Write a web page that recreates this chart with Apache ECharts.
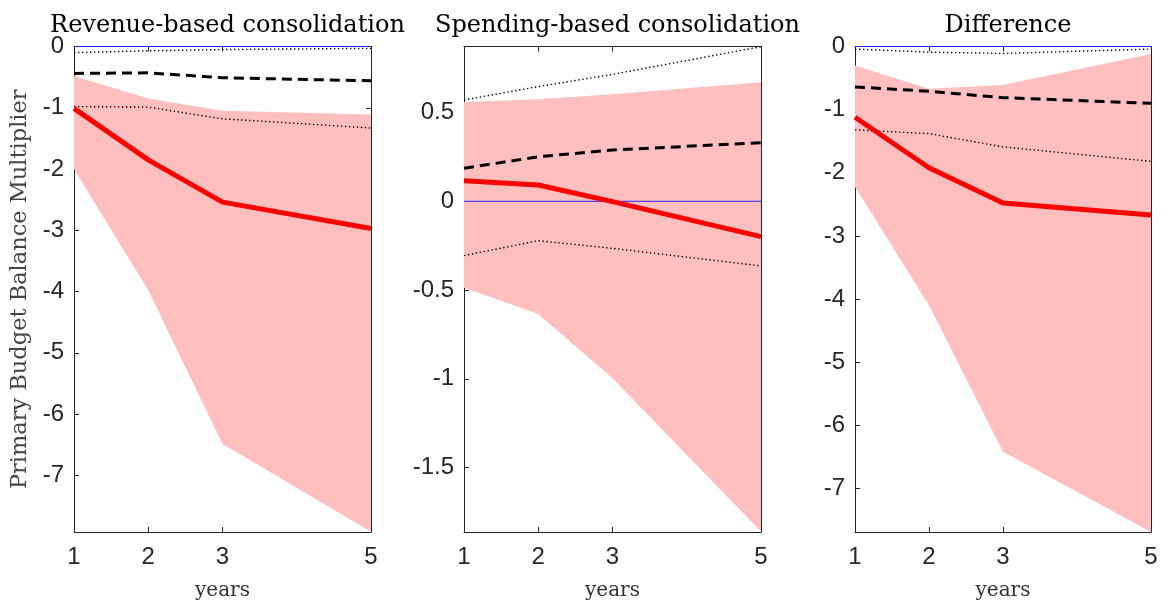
<!DOCTYPE html>
<html>
<head>
<meta charset="utf-8">
<script src="https://cdn.jsdelivr.net/npm/echarts@6/dist/echarts.min.js"></script>
<style>
  html, body { margin: 0; padding: 0; background: #fff; }
  #chart { width: 1174px; height: 606px; }
</style>
</head>
<body>
<div id="chart"></div>
<script>
// Horizon in years
const years = [1, 2, 3, 5];
const xTicks = [1, 2, 3, 5];

// Revenue-based consolidation
const revPoint  = [-1.01, -1.85, -2.54, -2.97];
const revBandLo = [-2.00, -3.98, -6.49, -7.92];
const revBandHi = [-0.48, -0.85, -1.05, -1.11];
const revDash   = [-0.44, -0.43, -0.51, -0.56];
const revDotHi  = [-0.10, -0.07, -0.05, -0.03];
const revDotLo  = [-0.98, -0.99, -1.18, -1.33];
const revYRange = [-7.925, 0];
const revYTicks = [-7, -6, -5, -4, -3, -2, -1, 0];

// Spending-based consolidation
const spPoint  = [0.116, 0.092, -0.002, -0.199];
const spBandLo = [-0.487, -0.635, -0.997, -1.86];
const spBandHi = [0.559, 0.575, 0.603, 0.670];
const spDash   = [0.186, 0.251, 0.289, 0.330];
const spDotHi  = [0.571, 0.646, 0.715, 0.871];
const spDotLo  = [-0.306, -0.222, -0.265, -0.364];
const spYRange = [-1.863, 0.872];
const spYTicks = [-1.5, -1, -0.5, 0, 0.5];

// Difference
const dfPoint  = [-1.12, -1.92, -2.48, -2.67];
const dfBandLo = [-2.22, -4.10, -6.42, -7.69];
const dfBandHi = [-0.30, -0.67, -0.61, -0.12];
const dfDash   = [-0.64, -0.71, -0.81, -0.90];
const dfDotHi  = [-0.04, -0.09, -0.11, -0.04];
const dfDotLo  = [-1.32, -1.38, -1.59, -1.82];
const dfYRange = [-7.69, 0];
const dfYTicks = [-7, -6, -5, -4, -3, -2, -1, 0];

const titles = ['Revenue-based consolidation', 'Spending-based consolidation', 'Difference'];
const yName = 'Primary Budget Balance Multiplier';
const xName = 'years';

const panels = [
  { point: revPoint, lo: revBandLo, hi: revBandHi, dash: revDash, dotHi: revDotHi, dotLo: revDotLo, yr: revYRange, yt: revYTicks },
  { point: spPoint,  lo: spBandLo,  hi: spBandHi,  dash: spDash,  dotHi: spDotHi,  dotLo: spDotLo,  yr: spYRange,  yt: spYTicks },
  { point: dfPoint,  lo: dfBandLo,  hi: dfBandHi,  dash: dfDash,  dotHi: dfDotHi,  dotLo: dfDotLo,  yr: dfYRange,  yt: dfYTicks }
];

// plot-area boxes in pixels
const boxes = [
  { left: 74,  width: 297 },
  { left: 464, width: 297 },
  { left: 855, width: 296 }
];
const TOP = 46.5, HEIGHT = 485.5;

const AX = '#262626';
const SANS = '"Liberation Sans", Arial, sans-serif';
const SERIF = '"DejaVu Serif", serif';

const pairs = (ys) => years.map((x, i) => [x, ys[i]]);

const grid = [], xAxis = [], yAxis = [], series = [], title = [];

panels.forEach((p, k) => {
  const b = boxes[k];
  grid.push({ left: b.left, top: TOP, width: b.width, height: HEIGHT, containLabel: false });

  title.push({
    text: titles[k],
    left: b.left + b.width / 2,
    top: 9,
    textAlign: 'center',
    textStyle: { fontFamily: SERIF, fontSize: 24, fontWeight: 'normal', color: '#000' }
  });

  const lineStyle = { color: AX, width: 1 };
  // bottom x axis with labels
  xAxis.push({
    type: 'value', gridIndex: k, position: 'bottom', min: 1, max: 5,
    axisLine: { show: true, onZero: false, lineStyle },
    axisTick: { show: true, inside: true, length: 5, lineStyle, customValues: xTicks },
    axisLabel: { show: true, customValues: xTicks, margin: 13, fontFamily: SANS, fontSize: 24, color: AX },
    splitLine: { show: false },
    name: xName, nameLocation: 'middle', nameGap: 49,
    nameTextStyle: { fontFamily: SERIF, fontSize: 20, color: '#333' }
  });
  // top x axis: ticks only
  xAxis.push({
    type: 'value', gridIndex: k, position: 'top', min: 1, max: 5,
    axisLine: { show: true, onZero: false, lineStyle },
    axisTick: { show: true, inside: true, length: 5, lineStyle, customValues: xTicks },
    axisLabel: { show: false },
    splitLine: { show: false }
  });
  // left y axis with labels
  yAxis.push(Object.assign({
    type: 'value', gridIndex: k, position: 'left', min: p.yr[0], max: p.yr[1],
    axisLine: { show: true, onZero: false, lineStyle },
    axisTick: { show: true, inside: true, length: 5, lineStyle, customValues: p.yt },
    axisLabel: { show: true, customValues: p.yt, margin: 10, fontFamily: SANS, fontSize: 24, color: AX },
    splitLine: { show: false }
  }, k === 0 ? {
    name: yName, nameLocation: 'middle', nameGap: 42,
    nameTextStyle: { fontFamily: SERIF, fontSize: 22.5, color: '#444' }
  } : {}));
  // right y axis: ticks only
  yAxis.push({
    type: 'value', gridIndex: k, position: 'right', min: p.yr[0], max: p.yr[1],
    axisLine: { show: true, onZero: false, lineStyle },
    axisTick: { show: true, inside: true, length: 5, lineStyle, customValues: p.yt },
    axisLabel: { show: false },
    splitLine: { show: false }
  });

  const xi = 2 * k, yi = 2 * k;

  // shaded confidence band
  series.push({
    type: 'custom', xAxisIndex: xi, yAxisIndex: yi, silent: true, z: 1, clip: true,
    data: years.map((x, i) => [x, p.lo[i], p.hi[i]]),
    encode: { x: 0, y: [1, 2] },
    renderItem: (params, api) => {
      if (params.dataIndex !== 0) return null;
      const pts = [];
      for (let i = 0; i < years.length; i++) pts.push(api.coord([years[i], p.hi[i]]));
      for (let i = years.length - 1; i >= 0; i--) pts.push(api.coord([years[i], p.lo[i]]));
      return { type: 'polygon', shape: { points: pts }, style: { fill: '#FFBFBF' } };
    }
  });

  const line = (data, style, z) => ({
    type: 'line', xAxisIndex: xi, yAxisIndex: yi, data: pairs(data),
    symbol: 'none', showSymbol: false, silent: true, z: z, clip: true,
    lineStyle: style
  });

  // zero reference
  series.push(line(years.map(() => 0), { color: '#2020FF', width: 1 }, 2));
  // dotted bounds
  series.push(line(p.dotHi, { color: '#000', width: 1.4, type: [1.4, 2.6], cap: 'butt' }, 3));
  series.push(line(p.dotLo, { color: '#000', width: 1.4, type: [1.4, 2.6], cap: 'butt' }, 3));
  // dashed estimate
  series.push(line(p.dash, { color: '#000', width: 3, type: [10, 6], cap: 'butt' }, 3));
  // point estimate
  series.push(line(p.point, { color: '#FF0000', width: 5 }, 4));
});

const chart = echarts.init(document.getElementById('chart'), null, { renderer: 'canvas' });
chart.setOption({
  animation: false,
  backgroundColor: '#fff',
  title, grid, xAxis, yAxis, series
});
</script>
</body>
</html>
